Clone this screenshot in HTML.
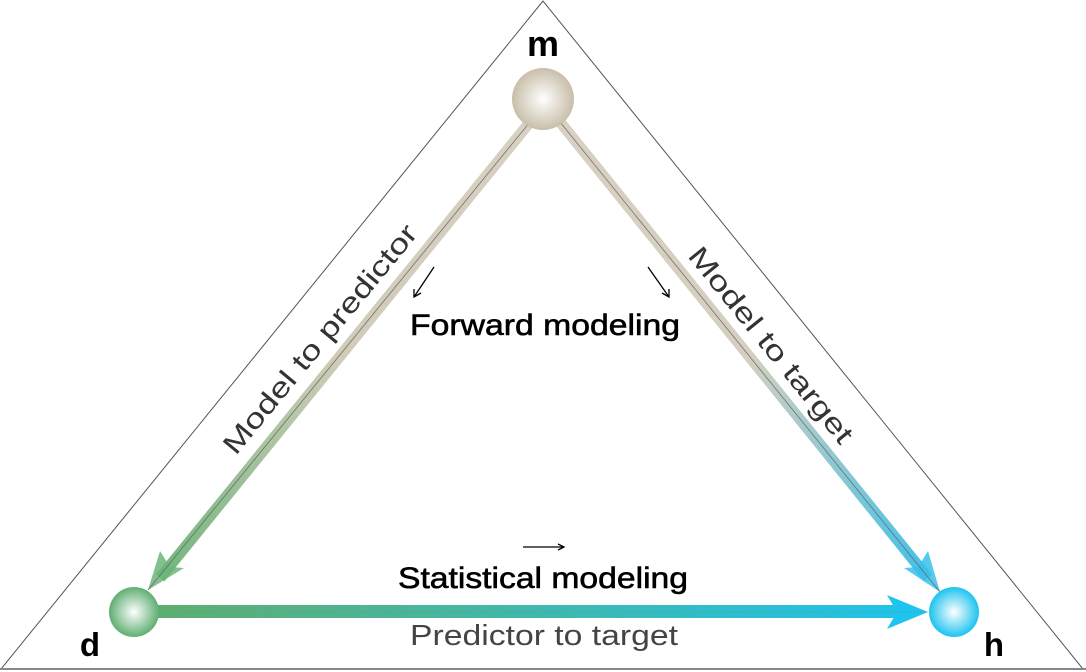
<!DOCTYPE html>
<html><head><meta charset="utf-8"><style>
html,body{margin:0;padding:0;background:#fff;}
svg{display:block;}
text{font-family:"Liberation Sans",sans-serif;}
</style></head><body>
<svg width="1086" height="672" viewBox="0 0 1086 672" xmlns="http://www.w3.org/2000/svg">
<defs>
<radialGradient id="gm" cx="0.5" cy="0.5" r="0.5" fx="0.5" fy="0.5">
<stop offset="0" stop-color="#ffffff"/><stop offset="1" stop-color="#c8bea9"/></radialGradient>
<radialGradient id="gd" cx="0.5" cy="0.5" r="0.5"><stop offset="0" stop-color="#ffffff"/><stop offset="1" stop-color="#5fae72"/></radialGradient>
<radialGradient id="gh" cx="0.5" cy="0.5" r="0.5"><stop offset="0" stop-color="#ffffff"/><stop offset="1" stop-color="#1ec3ef"/></radialGradient>
<linearGradient id="lg" gradientUnits="userSpaceOnUse" x1="530" y1="122" x2="150" y2="592"><stop offset="0" stop-color="#d8d0c2"/><stop offset="0.5" stop-color="#d0ccb8"/><stop offset="1" stop-color="#6cb57a"/></linearGradient>
<linearGradient id="rg" gradientUnits="userSpaceOnUse" x1="560" y1="122" x2="940" y2="592"><stop offset="0" stop-color="#d8d0c2"/><stop offset="0.5" stop-color="#d4cfc0"/><stop offset="1" stop-color="#38c0ea"/></linearGradient>
<linearGradient id="hg" gradientUnits="userSpaceOnUse" x1="160" y1="0" x2="930" y2="0"><stop offset="0" stop-color="#5fae70"/><stop offset="1" stop-color="#1ec3ef"/></linearGradient>
</defs>
<polygon points="543,1 1,669 1083,669" fill="none" stroke="#555" stroke-width="1"/>
<line x1="0" y1="669" x2="1086" y2="669" stroke="#888" stroke-width="2"/>
<line x1="530" y1="122" x2="160" y2="578" stroke="url(#lg)" stroke-width="11"/>
<polygon points="148,590 160,551 170,567 184,568" fill="#6cb57a" opacity="0.85"/>
<line x1="530" y1="122" x2="148" y2="590" stroke="#666" stroke-width="0.7"/>
<line x1="560" y1="122" x2="928" y2="578" stroke="url(#rg)" stroke-width="11"/>
<polygon points="940,592 928,551 918,567 904,568" fill="#38c0ea" opacity="0.85"/>
<line x1="560" y1="122" x2="940" y2="592" stroke="#666" stroke-width="0.7"/>
<rect x="155" y="605" width="745" height="13" fill="url(#hg)"/>
<polygon points="928,612 887,595 897,612 887,629" fill="#1ec3ef"/>
<line x1="155" y1="612" x2="928" y2="612" stroke="#4a8" stroke-width="0.6" opacity="0.6"/>
<circle cx="543" cy="99" r="31" fill="url(#gm)"/>
<circle cx="134" cy="612" r="25" fill="url(#gd)"/>
<circle cx="954" cy="612" r="25" fill="url(#gh)"/>
<text x="543" y="56" font-size="36" font-weight="bold" text-anchor="middle">m</text>
<text x="90" y="656" font-size="33" font-weight="bold" text-anchor="middle">d</text>
<text x="994" y="656" font-size="33" font-weight="bold" text-anchor="middle">h</text>
<text x="320" y="339" font-size="28" fill="#333" text-anchor="middle" dominant-baseline="central" textLength="288" lengthAdjust="spacingAndGlyphs" transform="rotate(-50.5 320 339)">Model to predictor</text>
<text x="771" y="345" font-size="28" fill="#333" text-anchor="middle" dominant-baseline="central" textLength="244" lengthAdjust="spacingAndGlyphs" transform="rotate(51 771 345)">Model to target</text>
<text x="410" y="335" font-size="30" stroke="#000" stroke-width="0.6" textLength="270" lengthAdjust="spacingAndGlyphs">Forward modeling</text>
<text x="398" y="588" font-size="30" stroke="#000" stroke-width="0.6" textLength="290" lengthAdjust="spacingAndGlyphs">Statistical modeling</text>
<text x="410" y="645" font-size="29" fill="#444" textLength="268" lengthAdjust="spacingAndGlyphs">Predictor to target</text>
<g stroke="#000" stroke-width="1.3" fill="none">
<line x1="434" y1="267" x2="414" y2="297"/><polyline points="414,289 414,297 421,293"/>
<line x1="648" y1="267" x2="669" y2="297"/><polyline points="662,293 669,297 669,289"/>
<line x1="523" y1="547" x2="564" y2="547"/><polyline points="558,544 564,547 558,550"/>
</g>
</svg>
</body></html>
